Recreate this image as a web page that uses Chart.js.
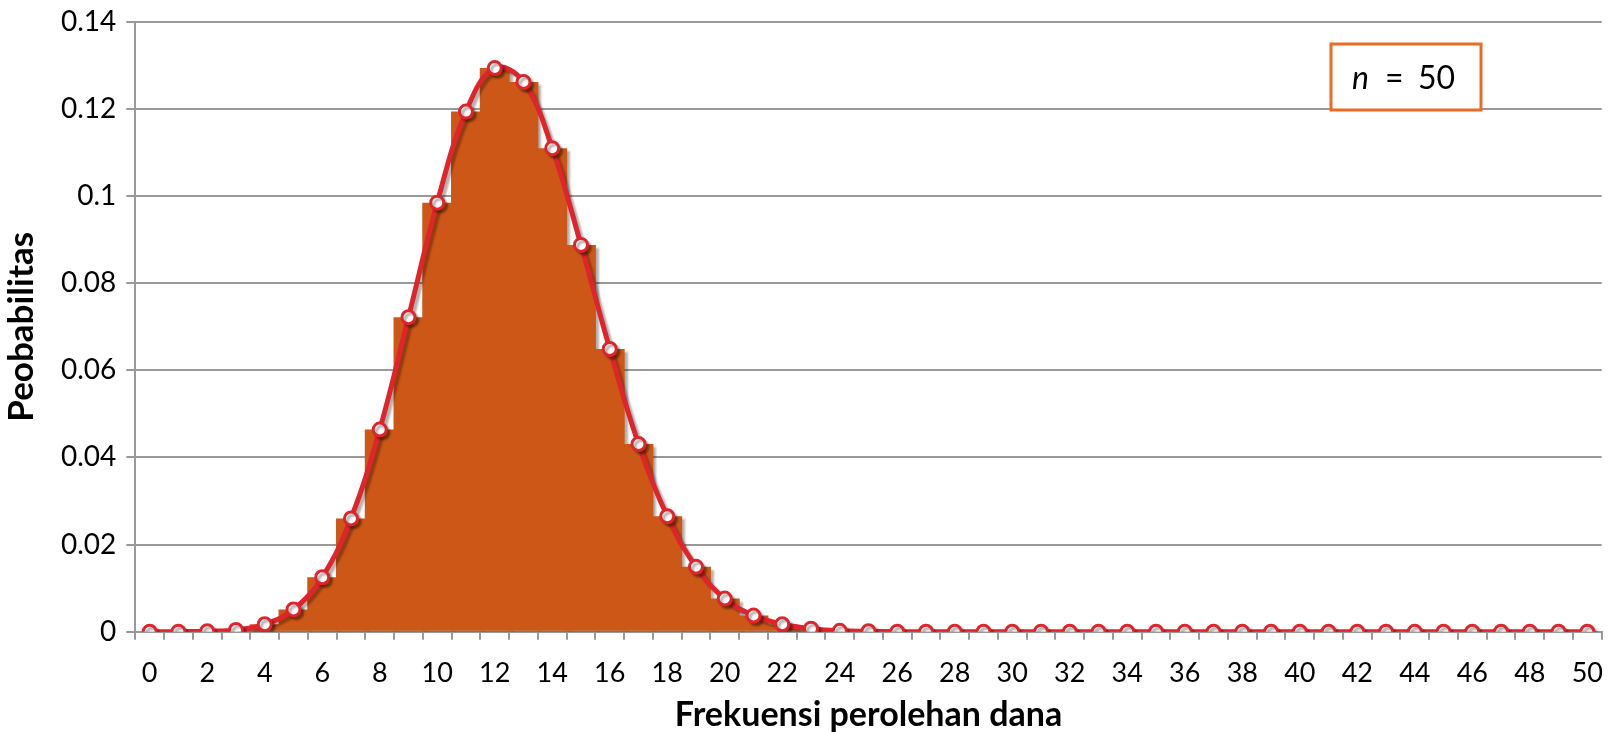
<!DOCTYPE html>
<html>
<head>
<meta charset="utf-8">
<script src="https://cdn.jsdelivr.net/npm/chart.js@4.4.1/dist/chart.umd.min.js"></script>
<style>
  html, body { margin: 0; padding: 0; background: #fff; }
  #wrap { width: 1624px; height: 732px; }
</style>
</head>
<body>
<div id="wrap"><canvas id="chart"></canvas></div>
<script>
// frequency 0..50 (tick labels shown every 2)
const categories = [
  0, 1, 2, 3, 4, 5, 6, 7, 8, 9, 10, 11, 12, 13, 14, 15, 16, 17, 18, 19, 20,
  21, 22, 23, 24, 25, 26, 27, 28, 29, 30, 31, 32, 33, 34, 35, 36, 37, 38, 39, 40,
  41, 42, 43, 44, 45, 46, 47, 48, 49, 50
];

// probability
const probs = [
  0, 0.00001, 0.0001, 0.0004, 0.0017, 0.0051, 0.0125, 0.026, 0.0464, 0.0722,
  0.0985, 0.1194, 0.1294, 0.1262, 0.111, 0.0888, 0.0649, 0.0431, 0.0265, 0.0149,
  0.0076, 0.0037, 0.0017, 0.0007, 0.0002, 0.0001, 0, 0, 0, 0,
  0, 0, 0, 0, 0, 0, 0, 0, 0, 0,
  0, 0, 0, 0, 0, 0, 0, 0, 0, 0,
  0
];

const yTicks = [0, 0.02, 0.04, 0.06, 0.08, 0.1, 0.12, 0.14];

const FONT = "Lato, 'Noto Sans', sans-serif";

// soft drop shadow like the original
const shadowPlugin = {
  id: "shadow",
  beforeDatasetDraw(chart, args) {
    const ctx = chart.ctx;
    ctx.save();
    ctx.shadowColor = "rgba(0,0,0,0.3)";
    ctx.shadowBlur = 2;
    ctx.shadowOffsetX = 3;
    ctx.shadowOffsetY = 3;
  },
  afterDatasetDraw(chart) {
    chart.ctx.restore();
  }
};

// "n = 50" box
const labelBox = {
  id: "labelBox",
  afterDraw(chart) {
    const ctx = chart.ctx;
    ctx.save();
    ctx.strokeStyle = "#ee6a22";
    ctx.lineWidth = 3;
    ctx.fillStyle = "#fff";
    ctx.fillRect(1331, 44, 150, 66);
    ctx.strokeRect(1331, 44, 150, 66);
    ctx.fillStyle = "#000";
    ctx.textBaseline = "middle";
    ctx.font = "italic 32px " + FONT;
    ctx.fillText("n", 1352, 79);
    ctx.font = "32px " + FONT;
    ctx.fillText("=", 1385, 79);
    ctx.fillText("50", 1418, 79);
    ctx.restore();
  }
};

new Chart(document.getElementById("chart"), {
  type: "bar",
  data: {
    labels: categories,
    datasets: [
      {
        type: "line",
        data: probs,
        borderColor: "#e0242b",
        borderWidth: 5,
        tension: 0.4,
        pointRadius: 6.5,
        pointBackgroundColor: "#fff",
        pointBorderColor: "#e0242b",
        pointBorderWidth: 3,
        order: 1
      },
      {
        data: probs,
        backgroundColor: "#cd5716",
        barPercentage: 1,
        categoryPercentage: 1.04,
        order: 2
      }
    ]
  },
  options: {
    responsive: true,
    maintainAspectRatio: false,
    animation: false,
    layout: { autoPadding: false, padding: { left: 4, right: 3, top: 3, bottom: 8 } },
    plugins: { legend: { display: false }, tooltip: { enabled: false } },
    scales: {
      x: {
        offset: true,
        grid: {
          offset: true,
          drawOnChartArea: false,
          drawTicks: true,
          tickLength: 8,
          color: "#999",
          lineWidth: 2
        },
        border: { color: "#999", width: 2 },
        ticks: {
          autoSkip: false,
          maxRotation: 0,
          color: "#000",
          font: { family: FONT, size: 27, lineHeight: 0.9 },
          padding: 21,
          callback: (v, i) => (categories[i] % 2 === 0 ? String(categories[i]) : "")
        },
        title: {
          display: true,
          text: "Frekuensi perolehan dana",
          color: "#000",
          font: { family: FONT, size: 34, weight: "bold", lineHeight: 0.53 },
          padding: { top: 0, bottom: 0 }
        }
      },
      y: {
        min: 0,
        max: 0.14,
        afterBuildTicks: (axis) => { axis.ticks = yTicks.map((v) => ({ value: v })); },
        grid: { color: "#999", lineWidth: 2, tickLength: 9 },
        border: { color: "#999", width: 2 },
        ticks: {
          color: "#000",
          font: { family: FONT, size: 28, lineHeight: 0.85 },
          padding: 10,
          callback: (v) => String(v)
        },
        title: {
          display: true,
          text: "Peobabilitas",
          color: "#000",
          font: { family: FONT, size: 35, weight: "bold", lineHeight: 1 },
          padding: { top: 0, bottom: 12 }
        }
      }
    }
  },
  plugins: [shadowPlugin, labelBox]
});
</script>
</body>
</html>
